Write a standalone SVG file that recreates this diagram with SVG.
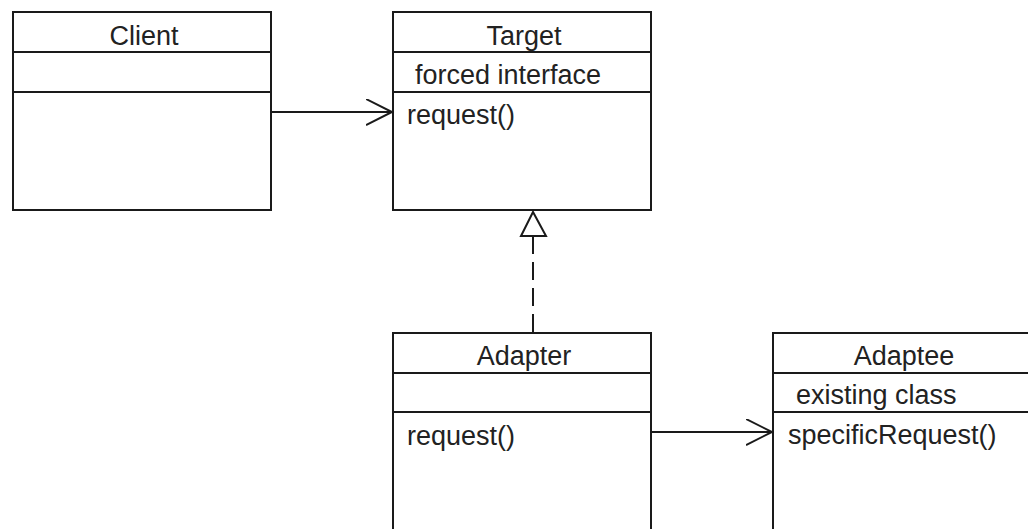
<svg xmlns="http://www.w3.org/2000/svg" width="1028" height="529" viewBox="0 0 1028 529">
<style>
.box{fill:#fff;stroke:#1a1a1a;stroke-width:2}
.sep{stroke:#1a1a1a;stroke-width:2}
.t{font-family:"Liberation Sans",Arial,sans-serif;font-size:27px;fill:#222}
.h{text-anchor:middle}
.edge{fill:none;stroke:#1a1a1a;stroke-width:2}
</style>
<defs>
<marker id="open" markerWidth="30" markerHeight="30" refX="26" refY="13" orient="auto" markerUnits="userSpaceOnUse">
<path d="M0,0 L26,13 L0,26" fill="none" stroke="#1a1a1a" stroke-width="2"/>
</marker>
</defs>
<rect width="1028" height="529" fill="#fff"/>
<g id="Client">
<rect class="box" x="13" y="12" width="258" height="198"/>
<line class="sep" x1="13" y1="52" x2="271" y2="52"/>
<line class="sep" x1="13" y1="92" x2="271" y2="92"/>
<text class="t h" x="144" y="44.5">Client</text>
</g>
<g id="Target">
<rect class="box" x="393" y="12" width="258" height="198"/>
<line class="sep" x1="393" y1="52" x2="651" y2="52"/>
<line class="sep" x1="393" y1="92" x2="651" y2="92"/>
<text class="t h" x="524" y="44.5">Target</text>
<text class="t" x="415" y="84">forced interface</text>
<text class="t" x="407" y="124">request()</text>
</g>
<g id="Adapter">
<rect class="box" x="393" y="333" width="258" height="210"/>
<line class="sep" x1="393" y1="373" x2="651" y2="373"/>
<line class="sep" x1="393" y1="412" x2="651" y2="412"/>
<text class="t h" x="524" y="365">Adapter</text>
<text class="t" x="407" y="445">request()</text>
</g>
<g id="Adaptee">
<rect class="box" x="773" y="333" width="258" height="210"/>
<line class="sep" x1="773" y1="373" x2="1031" y2="373"/>
<line class="sep" x1="773" y1="412" x2="1031" y2="412"/>
<text class="t h" x="904" y="365">Adaptee</text>
<text class="t" x="796" y="404">existing class</text>
<text class="t" x="788" y="444">specificRequest()</text>
</g>
<g id="connectors">
<line class="edge" x1="271" y1="112" x2="392" y2="112" marker-end="url(#open)"/>
<line class="edge" x1="651" y1="432" x2="772" y2="432" marker-end="url(#open)"/>
<line class="edge" x1="533" y1="236" x2="533" y2="333" stroke-dasharray="18 8"/>
<polygon points="533,212 521,236 546,236" fill="#fff" stroke="#1a1a1a" stroke-width="2"/>
</g>
</svg>
